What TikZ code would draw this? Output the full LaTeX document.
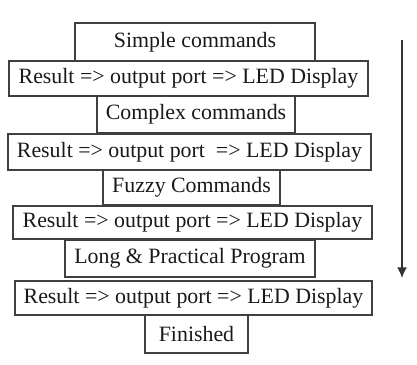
\documentclass[tikz,border=0pt]{standalone}
\usepackage{fontspec}
\setmainfont{Liberation Serif}
\usepackage{tikz}
\usetikzlibrary{arrows.meta,positioning}
\tikzset{cmd/.style 2 args={draw=black!75,line width=0.8pt,inner sep=0pt,
  text=black!90,font=\fontsize{16.4}{19}\selectfont,
  minimum width=#1*0.75pt,minimum height=#2*0.75pt}}
\newcommand{\res}{Result => output port => LED Display}

\begin{document}
\begin{tikzpicture}[x=0.75pt,y=-0.75pt]
\useasboundingbox (0,0) rectangle (417,364);
\node[cmd={240}{38}] (S) at (195,42) {Simple commands};
\node[cmd={359}{35}] (R1) at (188.5,78.5) {\res};
\node[cmd={198}{37}] (C) at (196,114.5) {Complex commands};
\node[cmd={363}{36}] (R2) at (189.5,152) {Result => output port\ \ => LED Display};
\node[cmd={177}{35}] (F) at (191.5,187.5) {Fuzzy Commands};
\node[cmd={359}{33}] (R3) at (192.5,222.5) {\res};
\node[cmd={250}{37}] (L) at (190,258.5) {Long \& Practical Program};
\node[cmd={357}{34}] (R4) at (193.5,298) {\res};
\node[cmd={103}{38}] (E) at (196.5,334) {Finished};
\coordinate (top) at (402,40);
\coordinate (bot) at (402,278);
\draw[-{Latex[length=8pt,width=7.5pt]},draw=black!80,line width=1.2pt]
(top) -- (bot);
\end{tikzpicture}
\end{document}
